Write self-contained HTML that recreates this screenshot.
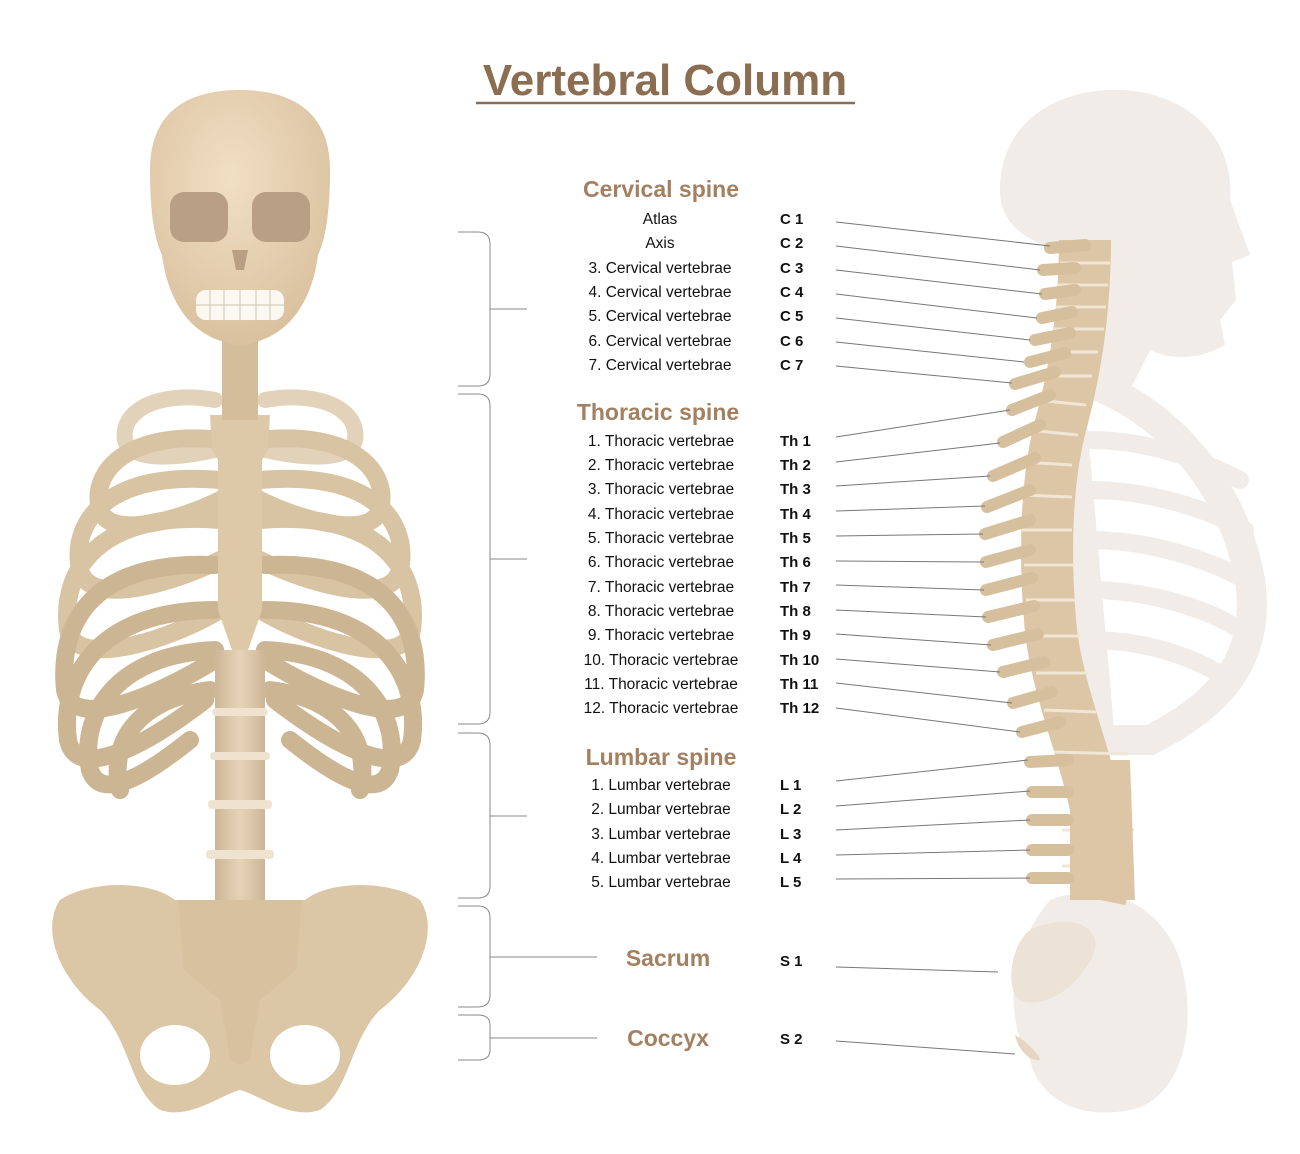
<!DOCTYPE html>
<html><head><meta charset="utf-8"><style>
html,body{margin:0;padding:0;background:#fff;}
svg{display:block;}
text{font-family:"Liberation Sans",sans-serif;}
</style></head><body>
<svg width="1300" height="1154" viewBox="0 0 1300 1154" xmlns="http://www.w3.org/2000/svg">
<defs>
<linearGradient id="bone" x1="0" y1="0" x2="1" y2="0">
<stop offset="0" stop-color="#cdb697"/><stop offset="0.5" stop-color="#e6d3b6"/><stop offset="1" stop-color="#cdb697"/>
</linearGradient>
<radialGradient id="skull" cx="0.45" cy="0.35" r="0.7">
<stop offset="0" stop-color="#f1dfc4"/><stop offset="1" stop-color="#d8bf9c"/>
</radialGradient>
</defs>
<rect width="1300" height="1154" fill="#fff"/>

<!-- Right faint silhouette -->
<g fill="#f1ece7">
<path d="M1000 190 C1000 120 1060 88 1120 90 C1190 92 1235 140 1230 200 L1250 255 L1232 262 L1236 300 L1220 320 L1225 345 C1200 360 1170 360 1150 350 L1130 390 L1100 380 L1060 250 C1020 240 1000 220 1000 190 Z"/>
<path d="M1080 380 C1150 400 1230 470 1250 580 C1260 650 1230 700 1150 740 L1100 740 L1070 400 Z" fill="none" stroke="#f1ece7" stroke-width="30"/>
<path d="M1050 900 C1100 880 1160 900 1180 960 C1200 1030 1180 1100 1130 1110 C1080 1120 1040 1100 1030 1060 C1010 1030 1000 960 1050 900 Z"/>
</g>
<g stroke="#f1ece7" stroke-width="18" fill="none" stroke-linecap="round">
<path d="M1090 440 C1150 440 1200 460 1240 480"/>
<path d="M1090 490 C1150 490 1210 510 1245 530"/>
<path d="M1090 540 C1150 540 1210 560 1245 580"/>
<path d="M1090 590 C1150 590 1210 610 1240 630"/>
<path d="M1090 640 C1150 640 1200 660 1230 680"/>
</g>

<!-- Right spine -->
<path d="M1085 240 C1085 300 1078 360 1062 420 C1045 480 1045 560 1050 620 C1055 690 1090 760 1100 830 C1105 860 1102 890 1100 900" fill="none" stroke="#dcc6a6" stroke-width="52"/>
<g stroke="#f0e6d6" stroke-width="3">
<line x1="1060" y1="263" x2="1110" y2="263"/><line x1="1058" y1="285" x2="1108" y2="285"/><line x1="1056" y1="307" x2="1106" y2="307"/><line x1="1054" y1="329" x2="1104" y2="329"/><line x1="1050" y1="352" x2="1098" y2="352"/><line x1="1044" y1="376" x2="1092" y2="376"/><line x1="1036" y1="400" x2="1086" y2="405"/><line x1="1028" y1="430" x2="1078" y2="435"/><line x1="1022" y1="462" x2="1072" y2="465"/><line x1="1020" y1="495" x2="1072" y2="497"/><line x1="1022" y1="530" x2="1072" y2="530"/><line x1="1024" y1="565" x2="1074" y2="565"/><line x1="1026" y1="600" x2="1076" y2="600"/><line x1="1030" y1="636" x2="1080" y2="636"/><line x1="1036" y1="673" x2="1088" y2="673"/><line x1="1044" y1="710" x2="1096" y2="712"/><line x1="1054" y1="752" x2="1128" y2="754"/><line x1="1060" y1="792" x2="1132" y2="792"/><line x1="1062" y1="830" x2="1134" y2="830"/><line x1="1062" y1="866" x2="1134" y2="866"/>
</g>
<path d="M1070 760 L1130 760 L1135 900 L1070 900 Z" fill="#dcc6a6"/>
<g stroke="#d6bf9d" stroke-width="12" stroke-linecap="round">
<line x1="1050" y1="248" x2="1085" y2="245"/><line x1="1043" y1="270" x2="1075" y2="268"/><line x1="1045" y1="294" x2="1075" y2="290"/><line x1="1042" y1="318" x2="1072" y2="312"/><line x1="1035" y1="340" x2="1070" y2="333"/><line x1="1030" y1="362" x2="1065" y2="353"/><line x1="1015" y1="384" x2="1055" y2="372"/>
<line x1="1012" y1="410" x2="1050" y2="395"/><line x1="1003" y1="442" x2="1040" y2="425"/><line x1="993" y1="476" x2="1035" y2="458"/><line x1="987" y1="507" x2="1030" y2="490"/><line x1="985" y1="534" x2="1030" y2="520"/><line x1="986" y1="562" x2="1030" y2="550"/><line x1="986" y1="590" x2="1032" y2="578"/><line x1="988" y1="617" x2="1034" y2="606"/><line x1="993" y1="645" x2="1038" y2="634"/><line x1="1003" y1="672" x2="1044" y2="662"/><line x1="1013" y1="703" x2="1052" y2="692"/><line x1="1022" y1="732" x2="1060" y2="722"/>
<line x1="1030" y1="762" x2="1068" y2="760"/><line x1="1032" y1="792" x2="1068" y2="792"/><line x1="1032" y1="820" x2="1068" y2="820"/><line x1="1032" y1="850" x2="1068" y2="850"/><line x1="1032" y1="878" x2="1068" y2="878"/>
</g>
<path d="M1030 930 C1060 915 1100 920 1095 950 C1080 990 1040 1010 1020 1000 C1005 990 1010 945 1030 930 Z" fill="#ece2d6"/>
<path d="M1015 1035 C1025 1040 1040 1055 1040 1060 C1030 1062 1018 1050 1015 1035 Z" fill="#e6d6c0"/>

<!-- connector lines -->
<g stroke="#777" stroke-width="1">
<line x1="836" y1="222" x2="1050" y2="246"/><line x1="836" y1="246" x2="1040" y2="270"/><line x1="836" y1="270" x2="1042" y2="294"/><line x1="836" y1="294" x2="1037" y2="318"/><line x1="836" y1="318" x2="1030" y2="340"/><line x1="836" y1="342" x2="1024" y2="362"/><line x1="836" y1="366" x2="1012" y2="383"/>
<line x1="836" y1="437" x2="1010" y2="410"/><line x1="836" y1="462" x2="1000" y2="443"/><line x1="836" y1="486" x2="990" y2="476"/><line x1="836" y1="511" x2="985" y2="506"/><line x1="836" y1="536" x2="983" y2="534"/><line x1="836" y1="561" x2="984" y2="562"/><line x1="836" y1="585" x2="984" y2="590"/><line x1="836" y1="610" x2="986" y2="617"/><line x1="836" y1="634" x2="991" y2="645"/><line x1="836" y1="659" x2="1000" y2="672"/><line x1="836" y1="683" x2="1012" y2="703"/><line x1="836" y1="708" x2="1020" y2="732"/>
<line x1="836" y1="781" x2="1028" y2="760"/><line x1="836" y1="806" x2="1030" y2="791"/><line x1="836" y1="830" x2="1030" y2="820"/><line x1="836" y1="855" x2="1030" y2="850"/><line x1="836" y1="879" x2="1030" y2="878"/>
<line x1="836" y1="967" x2="998" y2="972"/><line x1="836" y1="1041" x2="1015" y2="1054"/>
</g>

<!-- braces -->
<g stroke="#888" stroke-width="1" fill="none">
<path d="M458 232 L478 232 Q490 232 490 244 L490 374 Q490 386 478 386 L458 386 M490 309 L527 309"/>
<path d="M458 394 L478 394 Q490 394 490 406 L490 712 Q490 724 478 724 L458 724 M490 559 L527 559"/>
<path d="M458 733 L478 733 Q490 733 490 745 L490 886 Q490 898 478 898 L458 898 M490 816 L527 816"/>
<path d="M458 906 L478 906 Q490 906 490 918 L490 995 Q490 1007 478 1007 L458 1007 M490 957 L597 957"/>
<path d="M458 1015 L478 1015 Q490 1015 490 1025 L490 1050 Q490 1060 478 1060 L458 1060 M490 1038 L597 1038"/>
</g>

<!-- Title -->
<text x="665" y="95" text-anchor="middle" font-size="44" font-weight="bold" fill="#8b6d52">Vertebral Column</text>
<line x1="476" y1="103" x2="855" y2="103" stroke="#8b6d52" stroke-width="2.5"/>

<g font-size="23" font-weight="bold" fill="#a3805f" text-anchor="middle">
<text x="661" y="197">Cervical spine</text>
<text x="658" y="420">Thoracic spine</text>
<text x="661" y="765">Lumbar spine</text>
<text x="668" y="966">Sacrum</text>
<text x="668" y="1046">Coccyx</text>
</g>
<g font-size="15.5" fill="#111" text-anchor="middle">
<text x="660" y="224">Atlas</text><text x="660" y="248">Axis</text>
<text x="660" y="273">3. Cervical vertebrae</text><text x="660" y="297">4. Cervical vertebrae</text><text x="660" y="321">5. Cervical vertebrae</text><text x="660" y="346">6. Cervical vertebrae</text><text x="660" y="370">7. Cervical vertebrae</text>
<text x="661" y="446">1. Thoracic vertebrae</text><text x="661" y="470">2. Thoracic vertebrae</text><text x="661" y="494">3. Thoracic vertebrae</text><text x="661" y="519">4. Thoracic vertebrae</text><text x="661" y="543">5. Thoracic vertebrae</text><text x="661" y="567">6. Thoracic vertebrae</text><text x="661" y="592">7. Thoracic vertebrae</text><text x="661" y="616">8. Thoracic vertebrae</text><text x="661" y="640">9. Thoracic vertebrae</text><text x="661" y="665">10. Thoracic vertebrae</text><text x="661" y="689">11. Thoracic vertebrae</text><text x="661" y="713">12. Thoracic vertebrae</text>
<text x="661" y="790">1. Lumbar vertebrae</text><text x="661" y="814">2. Lumbar vertebrae</text><text x="661" y="839">3. Lumbar vertebrae</text><text x="661" y="863">4. Lumbar vertebrae</text><text x="661" y="887">5. Lumbar vertebrae</text>
</g>
<g font-size="15" font-weight="bold" fill="#111">
<text x="780" y="224">C 1</text><text x="780" y="248">C 2</text><text x="780" y="273">C 3</text><text x="780" y="297">C 4</text><text x="780" y="321">C 5</text><text x="780" y="346">C 6</text><text x="780" y="370">C 7</text>
<text x="780" y="446">Th 1</text><text x="780" y="470">Th 2</text><text x="780" y="494">Th 3</text><text x="780" y="519">Th 4</text><text x="780" y="543">Th 5</text><text x="780" y="567">Th 6</text><text x="780" y="592">Th 7</text><text x="780" y="616">Th 8</text><text x="780" y="640">Th 9</text><text x="780" y="665">Th 10</text><text x="780" y="689">Th 11</text><text x="780" y="713">Th 12</text>
<text x="780" y="790">L 1</text><text x="780" y="814">L 2</text><text x="780" y="839">L 3</text><text x="780" y="863">L 4</text><text x="780" y="887">L 5</text>
<text x="780" y="966">S 1</text><text x="780" y="1044">S 2</text>
</g>

<!-- Left skeleton: ribs -->
<g fill="none" stroke-linecap="round">
<g stroke="#e2d2ba" stroke-width="16">
<path d="M215 400 C160 390 120 410 125 440 C130 460 170 460 215 450"/>
<path d="M265 400 C320 390 360 410 355 440 C350 460 310 460 265 450"/>
</g>
<g stroke="#d8c3a3" stroke-width="18">
<path d="M220 440 C130 430 90 470 100 510 C110 540 180 520 220 500"/>
<path d="M260 440 C350 430 390 470 380 510 C370 540 300 520 260 500"/>
<path d="M220 480 C110 470 70 520 80 570 C90 610 180 580 220 560"/>
<path d="M260 480 C370 470 410 520 400 570 C390 610 300 580 260 560"/>
<path d="M220 520 C100 510 60 570 68 630 C76 670 170 640 220 610"/>
<path d="M260 520 C380 510 420 570 412 630 C404 670 310 640 260 610"/>
</g>
<g stroke="#ccb593" stroke-width="18">
<path d="M215 565 C95 560 58 620 65 690 C72 730 150 700 215 660"/>
<path d="M265 565 C385 560 422 620 415 690 C408 730 330 700 265 660"/>
<path d="M215 610 C95 610 60 680 68 740 C76 780 140 750 205 700"/>
<path d="M265 610 C385 610 420 680 412 740 C404 780 340 750 275 700"/>
<path d="M215 650 C110 655 80 720 90 770 C100 800 140 780 190 740"/>
<path d="M265 650 C370 655 400 720 390 770 C380 800 340 780 290 740"/>
<path d="M210 690 C130 700 110 750 120 790"/>
<path d="M270 690 C350 700 370 750 360 790"/>
</g>
</g>
<!-- sternum -->
<path d="M210 415 L270 415 L268 450 L262 460 L262 610 L248 650 L232 650 L218 610 L218 460 L212 450 Z" fill="#ddc8a7"/>
<!-- left spine -->
<rect x="222" y="350" width="36" height="70" fill="#d4bd9b"/>
<rect x="215" y="650" width="50" height="260" fill="url(#bone)"/>
<g fill="#efe3cf">
<rect x="212" y="708" width="56" height="8" rx="4"/><rect x="210" y="752" width="60" height="8" rx="4"/><rect x="208" y="800" width="64" height="9" rx="4"/><rect x="206" y="850" width="68" height="9" rx="4"/>
</g>
<!-- pelvis -->
<path d="M175 900 C150 880 90 880 60 900 C40 930 60 980 100 1010 C130 1040 130 1090 160 1110 C190 1120 220 1095 240 1090 C260 1095 290 1120 320 1110 C350 1090 350 1040 380 1010 C420 980 440 930 420 900 C390 880 330 880 305 900 Z" fill="#dbc6a5"/>
<ellipse cx="175" cy="1055" rx="35" ry="30" fill="#fff"/>
<ellipse cx="305" cy="1055" rx="35" ry="30" fill="#fff"/>
<path d="M178 900 L302 900 L296 970 L260 1000 L250 1060 L240 1065 L230 1060 L220 1000 L184 970 Z" fill="#d8c19f"/>
<!-- neck & skull -->
<rect x="222" y="330" width="36" height="30" fill="#d4bd9b"/>
<path d="M150 170 C150 110 190 90 240 90 C290 90 330 110 330 170 C330 215 325 240 318 255 C312 300 290 340 240 345 C190 340 168 300 162 255 C155 240 150 215 150 170 Z" fill="url(#skull)"/>
<rect x="170" y="192" width="58" height="50" rx="14" fill="#b9a084"/>
<rect x="252" y="192" width="58" height="50" rx="14" fill="#b9a084"/>
<path d="M232 250 L248 250 L244 270 L236 270 Z" fill="#b9a084"/>
<rect x="196" y="290" width="88" height="30" rx="10" fill="#fbf8f2"/>
<g stroke="#cfc3b3" stroke-width="1"><line x1="196" y1="305" x2="284" y2="305"/><line x1="210" y1="290" x2="210" y2="320"/><line x1="224" y1="290" x2="224" y2="320"/><line x1="240" y1="290" x2="240" y2="320"/><line x1="256" y1="290" x2="256" y2="320"/><line x1="270" y1="290" x2="270" y2="320"/></g>
</svg>
</body></html>
